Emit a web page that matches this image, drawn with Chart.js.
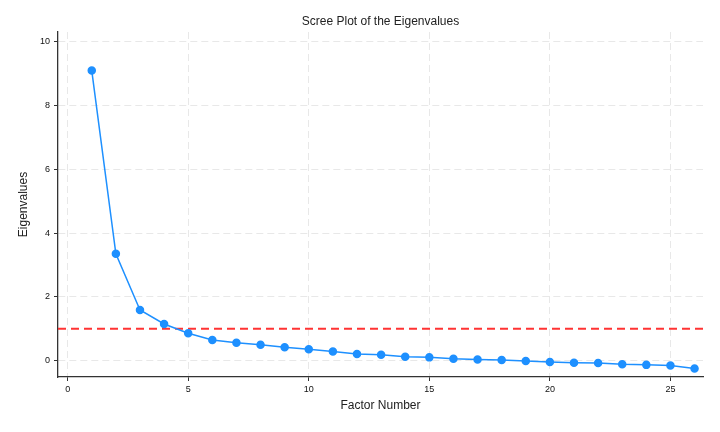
<!DOCTYPE html>
<html>
<head>
  <title>Scree Plot of the Eigenvalues</title>
  <script src="https://cdn.jsdelivr.net/npm/chart.js"></script>
  <style>
    body {
      margin: 0;
      background: #ffffff;
    }
    #screeChart {
      display: block;
    }
  </style>
</head>
<body>
  <canvas id="screeChart" width="720" height="432"></canvas>

  <script>
    // factor numbers and their eigenvalues
    const factors = [1, 2, 3, 4, 5, 6, 7, 8, 9, 10, 11, 12, 13,
                     14, 15, 16, 17, 18, 19, 20, 21, 22, 23, 24, 25, 26];
    const eigenvalues = [9.09, 3.35, 1.59, 1.15, 0.86, 0.65, 0.56, 0.50, 0.42, 0.36, 0.29, 0.21, 0.19,
                         0.125, 0.105, 0.06, 0.04, 0.02, -0.01, -0.04, -0.06, -0.07, -0.11, -0.13, -0.15, -0.24];
    const kaiserThreshold = 1;

    const xMin = -0.4, xMax = 26.35;
    const yMin = -0.51, yMax = 10.3;

    const fontFamily = '"Liberation Sans", Arial, sans-serif';
    const axisColor = '#333333';
    const gridColor = '#e8e8e8';

    const points = factors.map((f, i) => ({ x: f, y: eigenvalues[i] }));
    const kaiserLine = [{ x: xMin, y: kaiserThreshold }, { x: xMax, y: kaiserThreshold }];

    const ctx = document.getElementById('screeChart').getContext('2d');
    const chart = new Chart(ctx, {
      type: 'scatter',
      data: {
        datasets: [{
          label: 'Eigenvalues',
          data: points,
          showLine: true,
          borderColor: '#1e90ff',
          backgroundColor: '#1e90ff',
          borderWidth: 1.5,
          pointRadius: 3.5,
          pointHoverRadius: 3.5,
          order: 1
        }, {
          label: 'Kaiser criterion',
          data: kaiserLine,
          showLine: true,
          borderColor: '#ff3333',
          borderWidth: 2,
          borderDash: [8, 5],
          pointRadius: 0,
          order: 2
        }]
      },
      options: {
        responsive: false,
        animation: false,
        layout: {
          padding: { left: 0, right: 17, top: 0, bottom: 0 }
        },
        plugins: {
          legend: { display: false },
          tooltip: { enabled: false },
          title: {
            display: true,
            text: 'Scree Plot of the Eigenvalues',
            fullSize: false,
            color: '#222222',
            font: { family: fontFamily, size: 12, weight: 'normal', lineHeight: 1.2 },
            padding: { top: 14, bottom: 3.6 }
          }
        },
        scales: {
          x: {
            type: 'linear',
            min: xMin,
            max: xMax,
            afterFit: (scale) => { scale.height = 55; },
            ticks: {
              stepSize: 5,
              includeBounds: false,
              padding: 3,
              color: '#111111',
              font: { family: fontFamily, size: 9 }
            },
            grid: {
              color: gridColor,
              lineWidth: 1,
              tickColor: axisColor,
              tickLength: 4,
              tickBorderDash: []
            },
            // border.dash dashes the grid lines in Chart.js v4
            border: { display: true, color: axisColor, width: 1.3, dash: [7, 4] },
            title: {
              display: true,
              text: 'Factor Number',
              color: '#222222',
              font: { family: fontFamily, size: 12, lineHeight: 1.2 },
              padding: { top: 0, bottom: 19 }
            }
          },
          y: {
            type: 'linear',
            min: yMin,
            max: yMax,
            afterFit: (scale) => { scale.width = 58; },
            ticks: {
              stepSize: 2,
              includeBounds: false,
              padding: 4,
              color: '#111111',
              font: { family: fontFamily, size: 9 }
            },
            grid: {
              color: gridColor,
              lineWidth: 1,
              tickColor: axisColor,
              tickLength: 4,
              tickBorderDash: []
            },
            border: { display: true, color: axisColor, width: 1.3, dash: [7, 4] },
            title: {
              display: true,
              text: 'Eigenvalues',
              color: '#222222',
              font: { family: fontFamily, size: 12, lineHeight: 1.2 },
              padding: { top: 16, bottom: 0 }
            }
          }
        }
      }
    });
  </script>
</body>
</html>
